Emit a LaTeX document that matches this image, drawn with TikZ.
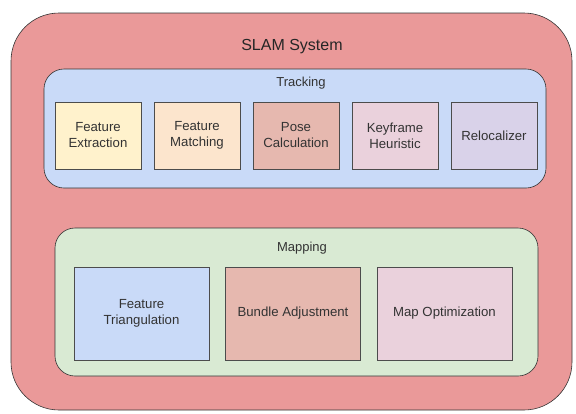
\documentclass[tikz,border=0pt]{standalone}
\usepackage{fontspec}
\setmainfont{Liberation Sans}
\usetikzlibrary{positioning}

\definecolor{slamred}{HTML}{EA9999}
\definecolor{trackblue}{HTML}{C9DAF8}
\definecolor{mapgreen}{HTML}{D9EAD3}
\definecolor{featyellow}{HTML}{FFF2CC}
\definecolor{featorange}{HTML}{FCE5CD}
\definecolor{poseberry}{HTML}{E6B8AF}
\definecolor{keypink}{HTML}{EAD1DC}
\definecolor{relpurple}{HTML}{D9D2E9}
\definecolor{inkgray}{HTML}{333333}

\begin{document}
\begin{tikzpicture}[x=1pt, y=-1pt,
  outerbox/.style={draw=black!80, line width=0.6pt, rounded corners=48pt,
    fill=slamred, minimum width=561pt, minimum height=397pt},
  groupbox/.style={draw=black!80, line width=0.6pt, rounded corners=20pt},
  block/.style={draw=black!70, line width=0.8pt, align=center, inner sep=0pt,
    text=inkgray, font=\fontsize{13.2}{16}\selectfont},
  trackblock/.style={block, minimum width=86pt, minimum height=67pt},
  mapblock/.style={block, minimum width=135pt, minimum height=93pt},
  caption/.style={text=inkgray, font=\fontsize{13}{15}\selectfont}]
\useasboundingbox (0,0) rectangle (576,413);

\def\dt{99}
\def\dm{151.5}

\def\xt{98}
\def\yt{135.5}
\def\xm{141.5}
\def\ym{313.5}

% outer system
\node[outerbox] (slam) at (291.5, 211.5) {};
\node[text=black!85, font=\fontsize{16}{19}\selectfont] (slamtitle) at (292, 47) {SLAM System};

% tracking
\node[groupbox, fill=trackblue, minimum width=502pt, minimum height=119pt] (tracking) at (295, 128.5) {};
\node[caption] (tracktitle) at (301, 83) {Tracking};

\node[trackblock, fill=featyellow] (extract) at (\xt, \yt) {Feature\\Extraction};
\node[trackblock, fill=featorange] (match) at (\xt + \dt, \yt) {Feature\\Matching};
\node[trackblock, fill=poseberry] (pose) at (\xt + 2 * \dt, \yt) {Pose\\Calculation};
\node[trackblock, fill=keypink] (keyframe) at (\xt + 3 * \dt, \yt) {Keyframe\\Heuristic};
\node[trackblock, fill=relpurple] (reloc) at (\xt + 4 * \dt, \yt) {Relocalizer};

% mapping
\node[groupbox, fill=mapgreen, minimum width=483pt, minimum height=148pt] (mapping) at (296.5, 302) {};
\node[caption] (maptitle) at (302, 248) {Mapping};

\node[mapblock, fill=trackblue] (triang) at (\xm, \ym) {Feature\\Triangulation};
\node[mapblock, fill=poseberry] (bundle) at (\xm + \dm, \ym) {Bundle Adjustment};
\node[mapblock, fill=keypink] (mapopt) at (\xm + 2 * \dm, \ym) {Map Optimization};

\end{tikzpicture}
\end{document}
